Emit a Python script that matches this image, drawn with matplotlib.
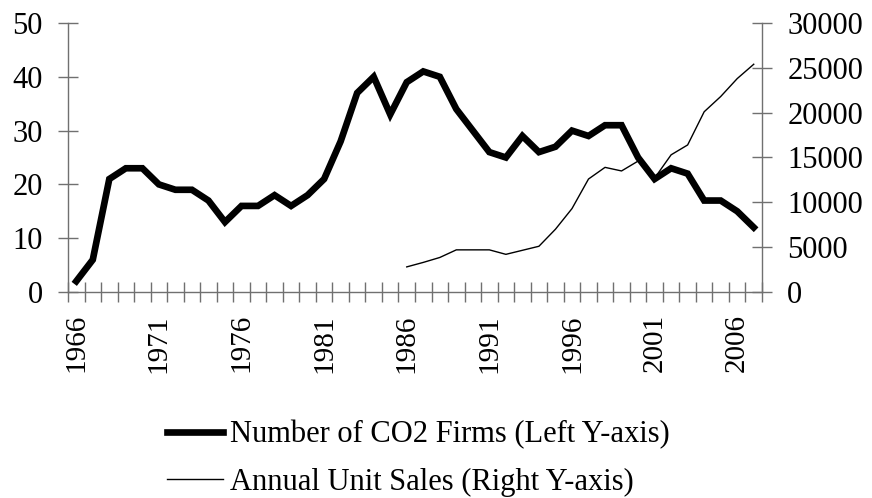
import matplotlib
matplotlib.use("Agg")
import matplotlib.pyplot as plt
from matplotlib.ticker import FixedLocator, NullFormatter

plt.rcParams['font.family'] = ['Liberation Serif', 'DejaVu Serif']

years = list(range(1966, 2008))
firms = [2, 6, 21, 23, 23, 20, 19, 19, 17, 13,
         16, 16, 18, 16, 18, 21, 28, 37, 40, 33,
         39, 41, 40, 34, 30, 26, 25, 29, 26, 27,
         30, 29, 31, 31, 25, 21, 23, 22, 17, 17,
         15, 12]
sales_years = list(range(1986, 2008))
sales = [2800, 3300, 3850, 4700, 4700, 4700, 4200, 4650, 5100, 7000,
         9300, 12600, 13900, 13500, 14600, 12700, 15300, 16400, 20100, 21800,
         23800, 25400]
label_firms = "Number of CO2 Firms (Left Y-axis)"
label_sales = "Annual Unit Sales (Right Y-axis)"
left_ticks = [0, 10, 20, 30, 40, 50]
right_ticks = [0, 5000, 10000, 15000, 20000, 25000, 30000]

xf = [years.index(y) for y in years]
xs = [years.index(y) for y in sales_years]

fig = plt.figure(figsize=(8.72, 4.98), dpi=100)
ax = fig.add_axes([68/872, 1-292/498, (762-68)/872, (292-23)/498])
ax2 = ax.twinx()

axis_col = '#707070'
fs = 22

l1, = ax.plot(xf, firms, color='black', lw=4.8, solid_joinstyle='miter', zorder=3)
l2, = ax2.plot(xs, sales, color='black', lw=1.0, zorder=2)

ax.set_xlim(-0.5, len(years) - 0.5)
ax.set_ylim(0, 50)
ax2.set_ylim(0, 30000)

for a in (ax, ax2):
    a.spines['top'].set_visible(False)
    for s in a.spines.values():
        s.set_color(axis_col)
        s.set_linewidth(1.0)
ax.spines['right'].set_visible(False)
ax2.spines['left'].set_visible(False)
ax2.spines['bottom'].set_visible(False)

ax.set_yticks(left_ticks)
ax.set_yticklabels([str(t) for t in left_ticks])
ax2.set_yticks(right_ticks)
ax2.set_yticklabels([str(t) for t in right_ticks])
ax.tick_params(axis='y', direction='inout', length=14.4, width=1.0, color=axis_col,
               labelsize=fs, pad=11)
ax2.tick_params(axis='y', direction='inout', length=14.4, width=1.0, color=axis_col,
                labelsize=fs, pad=11)

major = [i for i, y in enumerate(years) if (y - 1966) % 5 == 0]
ax.set_xticks(major)
ax.set_xticklabels([str(years[i]) for i in major], rotation=90)
ax.xaxis.set_minor_locator(FixedLocator([i - 0.5 for i in range(len(years) + 1)]))
ax.xaxis.set_minor_formatter(NullFormatter())
ax.tick_params(axis='x', which='major', length=0, labelsize=21, pad=16)
ax.tick_params(axis='x', which='minor', direction='inout', length=14.4, width=1.0,
               color=axis_col)

fig.legend([l1, l2], [label_firms, label_sales], loc='upper left',
           bbox_to_anchor=(167/872, 1-420/498), frameon=False, fontsize=fs,
           handlelength=1.83, handletextpad=0.23, labelspacing=0.6,
           borderaxespad=0, borderpad=0)

fig.savefig('out.png', dpi=100)
